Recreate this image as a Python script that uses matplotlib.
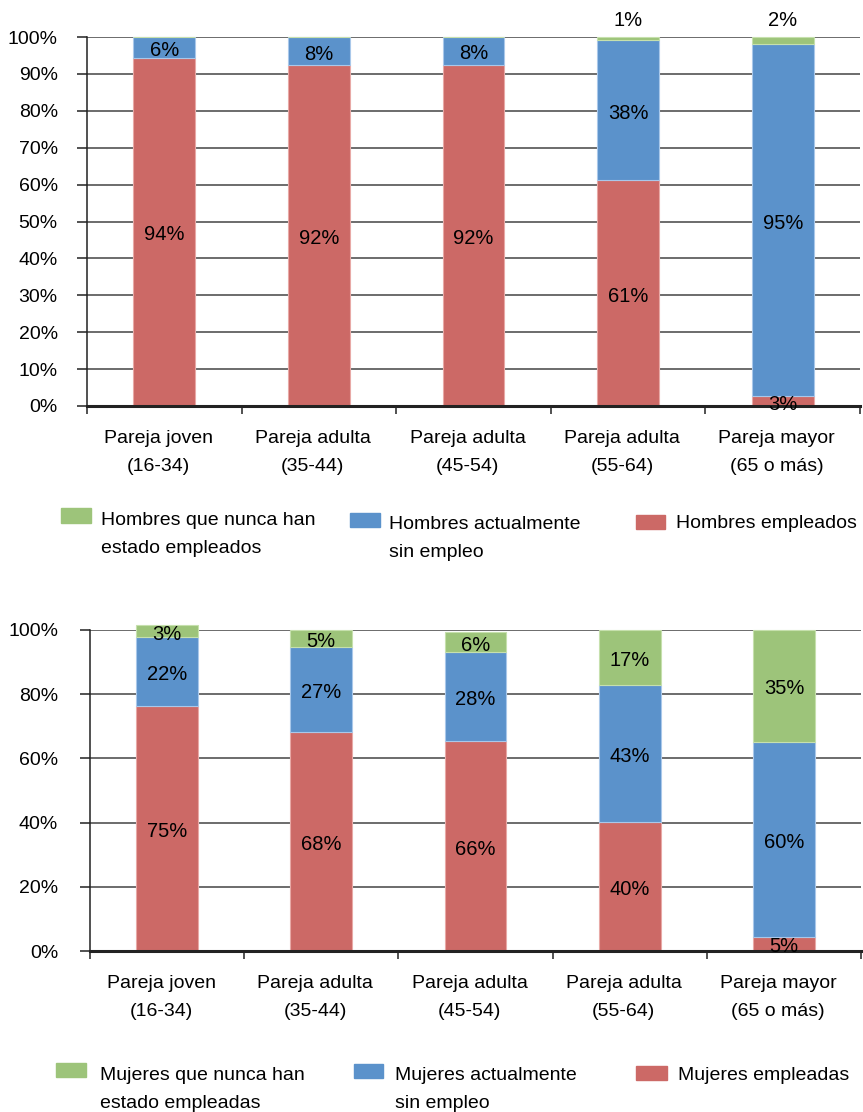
import matplotlib
matplotlib.use("Agg")
import matplotlib.pyplot as plt
from matplotlib.patches import Rectangle
from matplotlib.transforms import offset_copy

plt.rcParams['font.family'] = ['Liberation Sans', 'DejaVu Sans']

categories = ["Pareja joven\n(16-34)", "Pareja adulta\n(35-44)", "Pareja adulta\n(45-54)",
              "Pareja adulta\n(55-64)", "Pareja mayor\n(65 o más)"]

# hombres (bar heights, labels as printed)
men_employed = [94.4, 92.4, 92.5, 61.2, 2.6]
men_unemployed = [5.6, 7.6, 7.5, 38.0, 95.4]
men_never = [0.0, 0.0, 0.0, 0.8, 2.0]
men_employed_lbl = [94, 92, 92, 61, 3]
men_unemployed_lbl = [6, 8, 8, 38, 95]
men_never_lbl = [None, None, None, 1, 2]

# mujeres
women_employed = [76.3, 68.1, 65.3, 40.1, 4.5]
women_unemployed = [21.4, 26.7, 27.9, 42.8, 60.7]
women_never = [3.9, 5.2, 6.1, 17.1, 34.8]
women_employed_lbl = [75, 68, 66, 40, 5]
women_unemployed_lbl = [22, 27, 28, 43, 60]
women_never_lbl = [3, 5, 6, 17, 35]

RED = "#cc6966"
BLUE = "#5b92cb"
GREEN = "#9dc47a"
EDGE = {RED: "#e8a9a6", BLUE: "#a9c8ea", GREEN: "#c6e0ad"}

W, H = 863, 1112
fig = plt.figure(figsize=(W / 100, H / 100), dpi=100)


def px_axes(left, top, right, bottom):
    return fig.add_axes([left / W, 1 - bottom / H, (right - left) / W, (bottom - top) / H])


def draw_panel(ax, series, labels, yticks, small_above, ypad):
    x = [i + 0.5 for i in range(len(categories))]
    bottom = [0.0] * len(categories)
    lbl_trans = offset_copy(ax.transData, fig=fig, x=0, y=-3, units="dots")
    for vals, lbls, color in series:
        ax.bar(x, vals, width=0.4, bottom=bottom, color=color, edgecolor=EDGE[color],
               linewidth=0.8, zorder=3, clip_on=False)
        for i, (v, lb) in enumerate(zip(vals, lbls)):
            if lb is None:
                continue
            yc = bottom[i] + v / 2
            if small_above and v < 2.5 and color == GREEN:
                yc = 105.2
            ax.text(x[i], yc, f"{lb}%", ha="center", va="center", fontsize=14.5,
                    zorder=5, clip_on=False, transform=lbl_trans)
        bottom = [b + v for b, v in zip(bottom, vals)]

    ax.set_xlim(0, len(categories))
    ax.set_ylim(0, 100)
    ax.set_yticks(yticks)
    ax.set_yticklabels([f"{t}%" for t in yticks], fontsize=14)
    ax.set_xticks(range(len(categories) + 1))
    ax.set_xticklabels([])
    ax.grid(axis="y", color="#444444", linewidth=1.1, zorder=0)
    for s in ["top", "right"]:
        ax.spines[s].set_visible(False)
    ax.spines["left"].set_color("#222222")
    ax.spines["left"].set_linewidth(1.1)
    ax.spines["bottom"].set_color("#222222")
    ax.spines["bottom"].set_linewidth(2.2)
    ax.spines["bottom"].set_zorder(4)
    ax.tick_params(axis="y", length=7, width=1.1, color="#222222", pad=ypad)
    ax.tick_params(axis="x", length=6, width=1.1, color="#222222")
    ax.set_axisbelow(True)

    trans = offset_copy(ax.get_xaxis_transform(), fig=fig, x=-6, y=-24, units="dots")
    for i, lab in enumerate(labels):
        ax.text(x[i], 0, lab, transform=trans, ha="center", va="top", fontsize=14,
                linespacing=1.85, multialignment="center")


def legend_item(color, patch, text, x_text, y_text):
    x0, y0, x1, y1 = patch
    fig.patches.append(Rectangle((x0 / W, 1 - y1 / H), (x1 - x0) / W, (y1 - y0) / H,
                                 transform=fig.transFigure, color=color, figure=fig))
    fig.text(x_text / W, 1 - y_text / H, text, ha="left", va="top", fontsize=14,
             linespacing=1.85)


ax1 = px_axes(87, 37, 860, 406)
draw_panel(ax1,
           [(men_employed, men_employed_lbl, RED),
            (men_unemployed, men_unemployed_lbl, BLUE),
            (men_never, men_never_lbl, GREEN)],
           categories, list(range(0, 101, 10)), True, 14)

ax2 = px_axes(90, 630, 861, 951)
draw_panel(ax2,
           [(women_employed, women_employed_lbl, RED),
            (women_unemployed, women_unemployed_lbl, BLUE),
            (women_never, women_never_lbl, GREEN)],
           categories, list(range(0, 101, 20)), False, 16)

legend_item(GREEN, (61, 508, 91, 523), "Hombres que nunca han\nestado empleados", 101, 512)
legend_item(BLUE, (350, 513, 380, 527), "Hombres actualmente\nsin empleo", 389, 516)
legend_item(RED, (636, 515, 665, 529), "Hombres empleados", 676, 515)

legend_item(GREEN, (56, 1063, 86, 1077), "Mujeres que nunca han\nestado empleadas", 100, 1067)
legend_item(BLUE, (354, 1064, 383, 1078), "Mujeres actualmente\nsin empleo", 395, 1067)
legend_item(RED, (636, 1066, 667, 1080), "Mujeres empleadas", 678, 1067)

fig.savefig("out.png", dpi=100)
